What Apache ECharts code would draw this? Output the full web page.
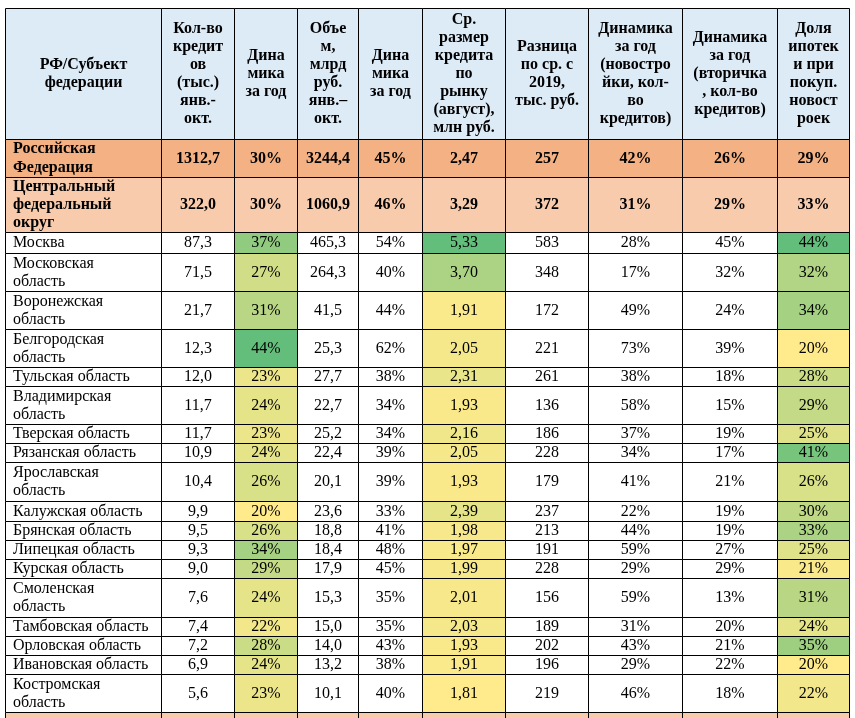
<!DOCTYPE html>
<html lang="ru">
<head>
<meta charset="UTF-8">
<title>Ипотека: регионы ЦФО</title>
<script src="https://cdn.jsdelivr.net/npm/echarts@6/dist/echarts.min.js"></script>
<style>
  html, body { margin: 0; padding: 0; background: #fff; }
</style>
</head>
<body>
<div id="main" style="width:855px;height:718px;"></div>
<script type="text/javascript">
// заголовки столбцов
var headers = [
    'РФ/Субъект\nфедерации',
    'Кол-во\nкредит\nов\n(тыс.)\nянв.-\nокт.',
    'Дина\nмика\nза год',
    'Объе\nм,\nмлрд\nруб.\nянв.–\nокт.',
    'Дина\nмика\nза год',
    'Ср.\nразмер\nкредита\nпо\nрынку\n(август),\nмлн руб.',
    'Разница\nпо ср. с\n2019,\nтыс. руб.',
    'Динамика\nза год\n(новостро\nйки, кол-\nво\nкредитов)',
    'Динамика\nза год\n(вторичка\n, кол-во\nкредитов)',
    'Доля\nипотек\nи при\nпокуп.\nновост\nроек'
];

// данные
var names = [
    'Российская\nФедерация', 'Центральный\nфедеральный\nокруг', 'Москва',
    'Московская\nобласть', 'Воронежская\nобласть', 'Белгородская\nобласть',
    'Тульская область', 'Владимирская\nобласть', 'Тверская область',
    'Рязанская область', 'Ярославская\nобласть', 'Калужская область',
    'Брянская область', 'Липецкая область', 'Курская область',
    'Смоленская\nобласть', 'Тамбовская область', 'Орловская область',
    'Ивановская область', 'Костромская\nобласть', 'Северо-Западный\nфедеральный\nокруг'
];
var kind = ['total', 'district', 'region', 'region', 'region', 'region', 'region', 'region',
    'region', 'region', 'region', 'region', 'region', 'region', 'region', 'region',
    'region', 'region', 'region', 'region', 'district'];
var kolvo    = [1312.7, 322.0, 87.3, 71.5, 21.7, 12.3, 12.0, 11.7, 11.7, 10.9, 10.4, 9.9, 9.5, 9.3, 9.0, 7.6, 7.4, 7.2, 6.9, 5.6, null];
var dynKolvo = [30, 30, 37, 27, 31, 44, 23, 24, 23, 24, 26, 20, 26, 34, 29, 24, 22, 28, 24, 23, null];
var obem     = [3244.4, 1060.9, 465.3, 264.3, 41.5, 25.3, 27.7, 22.7, 25.2, 22.4, 20.1, 23.6, 18.8, 18.4, 17.9, 15.3, 15.0, 14.0, 13.2, 10.1, null];
var dynObem  = [45, 46, 54, 40, 44, 62, 38, 34, 34, 39, 39, 33, 41, 48, 45, 35, 35, 43, 38, 40, null];
var razmer   = [2.47, 3.29, 5.33, 3.70, 1.91, 2.05, 2.31, 1.93, 2.16, 2.05, 1.93, 2.39, 1.98, 1.97, 1.99, 2.01, 2.03, 1.93, 1.91, 1.81, null];
var raznica  = [257, 372, 583, 348, 172, 221, 261, 136, 186, 228, 179, 237, 213, 191, 228, 156, 189, 202, 196, 219, null];
var dynNew   = [42, 31, 28, 17, 49, 73, 38, 58, 37, 34, 41, 22, 44, 59, 29, 59, 31, 43, 29, 46, null];
var dynSec   = [26, 29, 45, 32, 24, 39, 18, 15, 19, 17, 21, 19, 19, 27, 29, 13, 20, 21, 22, 18, null];
var dolya    = [29, 33, 44, 32, 34, 20, 28, 29, 25, 41, 26, 30, 33, 25, 21, 31, 24, 35, 20, 22, null];

var columns = [names, kolvo, dynKolvo, obem, dynObem, razmer, raznica, dynNew, dynSec, dolya];
// число = кол-во знаков после запятой, 'p' - проценты
var formats = [null, 1, 'p', 1, 'p', 2, 0, 'p', 'p', 'p'];
// столбцы с цветовой шкалой
var scaled = [2, 5, 9];

// сетка таблицы (границы в пикселях)
var colX = [5, 161, 234, 297, 358, 422, 505, 588, 682, 777, 849];
var rowY = [8, 139, 177, 232, 253, 291, 329, 367, 386, 424, 443, 462, 501, 521, 540, 559, 578, 617, 636, 655, 674, 712, 775];

var fills = { header: '#DDEBF7', total: '#F4B183', district: '#F8CBAD', region: '#FFFFFF' };
var scaleColors = ['#FFEB8C', '#63BE7B'];

function fmt(v, f) {
    if (v === null || v === undefined) return '';
    if (f === 'p') return v + '%';
    return v.toFixed(f).replace('.', ',');
}

// мин/макс по регионам для шкалы
var ranges = {};
scaled.forEach(function (c) {
    var vals = columns[c].filter(function (v, i) { return kind[i] === 'region'; });
    ranges[c] = [Math.min.apply(null, vals), Math.max.apply(null, vals)];
});

// ячейки: [столбец, строка]; строка 0 - заголовок
var cells = [];
for (var r = 0; r <= names.length; r++) {
    for (var c = 0; c < headers.length; c++) {
        cells.push([c, r]);
    }
}

function renderItem(params, api) {
    var c = api.value(0), r = api.value(1);
    var p0 = api.coord([colX[c], rowY[r]]);
    var p1 = api.coord([colX[c + 1], rowY[r + 1]]);
    var x0 = Math.round(p0[0]) + 0.5, y0 = Math.round(p0[1]) + 0.5;
    var x1 = Math.round(p1[0]) + 0.5, y1 = Math.round(p1[1]) + 0.5;

    var text, fill, bold, left = false;
    if (r === 0) {
        text = headers[c];
        fill = fills.header;
        bold = true;
    } else {
        var i = r - 1;
        var k = kind[i];
        text = c === 0 ? names[i] : fmt(columns[c][i], formats[c]);
        fill = fills[k];
        bold = k !== 'region';
        left = c === 0;
        if (k === 'region' && scaled.indexOf(c) >= 0) {
            var rg = ranges[c];
            var t = (columns[c][i] - rg[0]) / (rg[1] - rg[0]);
            fill = echarts.color.lerp(t, scaleColors);
        }
    }

    return {
        type: 'rect',
        shape: { x: x0, y: y0, width: x1 - x0, height: y1 - y0 },
        style: { fill: fill, stroke: '#000', lineWidth: 1 },
        textContent: {
            style: {
                text: text,
                fontFamily: 'Liberation Serif',
                fontSize: 16,
                fontWeight: bold ? 'bold' : 'normal',
                fill: '#000',
                lineHeight: r === 0 ? 17.9 : 18.3,
                align: left ? 'left' : 'center'
            }
        },
        textConfig: left ? { position: 'insideLeft', distance: 8 } : { position: 'inside' }
    };
}

var myChart = echarts.init(document.getElementById('main'));

var option = {
    animation: false,
    backgroundColor: '#fff',
    grid: { left: 0, right: 0, top: 0, bottom: 0 },
    xAxis: { type: 'value', min: 0, max: 855, show: false },
    yAxis: { type: 'value', min: 0, max: 718, inverse: true, show: false },
    series: [{
        type: 'custom',
        silent: true,
        clip: false,
        renderItem: renderItem,
        encode: { x: 0, y: 1 },
        data: cells
    }]
};

myChart.setOption(option);
</script>
</body>
</html>
